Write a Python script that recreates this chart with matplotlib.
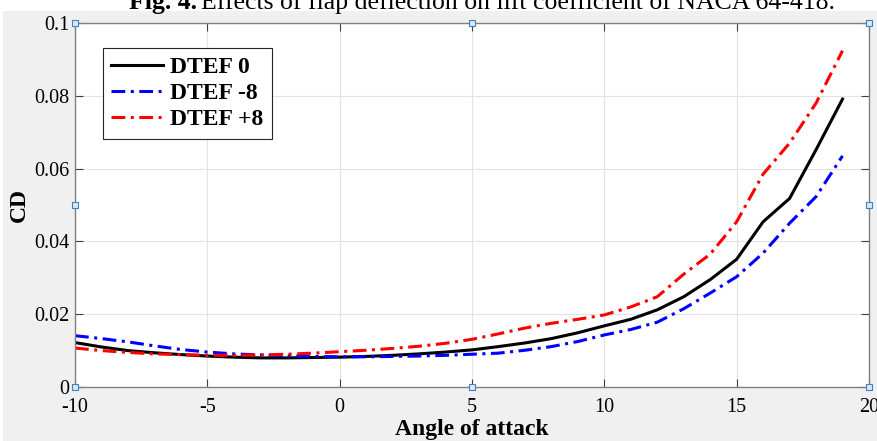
import numpy as np
import matplotlib.pyplot as plt
from matplotlib.patches import Rectangle

# angle of attack (deg) and drag coefficient for each flap deflection
alpha = [-10, -9, -8, -7, -6, -5, -4, -3, -2, -1, 0, 1, 2, 3, 4, 5, 6, 7, 8, 9,
         10, 11, 12, 13, 14, 15, 16, 17, 18, 19]
cd_0 = [0.0122, 0.0110, 0.0100, 0.0094, 0.0089, 0.0085, 0.0082, 0.0080, 0.0080, 0.0081,
        0.0082, 0.0084, 0.0087, 0.0091, 0.0096, 0.0102, 0.0111, 0.0121, 0.0133, 0.0149,
        0.0168, 0.0186, 0.0212, 0.0248, 0.0295, 0.0351, 0.0454, 0.0518, 0.0652, 0.0791]
cd_m8 = [0.0141, 0.0133, 0.0124, 0.0113, 0.0103, 0.0096, 0.0091, 0.0088, 0.0086, 0.0084,
         0.0083, 0.0083, 0.0084, 0.0085, 0.0087, 0.0090, 0.0093, 0.0101, 0.0111, 0.0125,
         0.0143, 0.0158, 0.0178, 0.0215, 0.0258, 0.0303, 0.0368, 0.0450, 0.0523, 0.0635]
cd_p8 = [0.0107, 0.0100, 0.0095, 0.0091, 0.0089, 0.0087, 0.0087, 0.0088, 0.0090, 0.0093,
         0.0097, 0.0101, 0.0106, 0.0112, 0.0120, 0.0131, 0.0146, 0.0162, 0.0175, 0.0186,
         0.0198, 0.0220, 0.0248, 0.0310, 0.0365, 0.0454, 0.0585, 0.0670, 0.0780, 0.0924]
labels = ['DTEF 0', 'DTEF -8', 'DTEF +8']
xticks = [-10, -5, 0, 5, 10, 15, 20]
yticks = [0, 0.02, 0.04, 0.06, 0.08, 0.1]
ytick_labels = ['0', '0.02', '0.04', '0.06', '0.08', '0.1']

plt.rcParams['font.family'] = ['Liberation Serif', 'DejaVu Serif']

W, H = 877, 441
fig = plt.figure(figsize=(W / 100, H / 100), dpi=100, facecolor='white')

# MATLAB figure window background (gray), title strip above it is white
fig.patches.append(Rectangle((3 / W, 0), 1 - 3 / W, 1 - 11 / H, transform=fig.transFigure,
                             facecolor='#f0f0f0', edgecolor='none', zorder=-10))

# caption cut off at the top of the screenshot
fig.text(129 / W, 1 - 9 / H, 'Fig. 4.', fontsize=18.5, fontweight='bold', ha='left', va='baseline')
fig.text(201 / W, 1 - 9 / H, 'Effects of flap deflection on lift coefficient of NACA 64-418.',
         fontsize=18.5, ha='left', va='baseline')

ax = fig.add_axes([75 / W, 1 - 387 / H, 794 / W, 364 / H])
ax.set_facecolor('white')

ax.plot(alpha, cd_0, color='black', linestyle='-', linewidth=2.2, label=labels[0])
ax.plot(alpha, cd_m8, color='blue', linestyle=(0, (4.5, 1.8, 1, 1.8)), linewidth=2.2, label=labels[1])
ax.plot(alpha, cd_p8, color='red', linestyle=(0, (4.5, 1.8, 1, 1.8)), linewidth=2.2, label=labels[2])

ax.set_xlim(-10, 20)
ax.set_ylim(0, 0.1)
ax.set_xticks(xticks)
ax.set_xticklabels([str(t) for t in xticks])
ax.set_yticks(yticks)
ax.set_yticklabels(ytick_labels)
ax.tick_params(direction='in', length=6, width=0.8, color='#404040', labelsize=14.5,
               top=True, right=True)
ax.tick_params(axis='x', pad=8)
ax.tick_params(axis='y', pad=4)
ax.grid(True, color='#e3e3e3', linewidth=0.8)
ax.set_axisbelow(True)
for s in ax.spines.values():
    s.set_color('#808080')
    s.set_linewidth(1.0)

ax.set_xlabel('Angle of attack', fontsize=17, fontweight='bold', labelpad=1)
ax.set_ylabel('CD', fontsize=17, fontweight='bold', labelpad=3)

leg = ax.legend(loc='upper left', bbox_to_anchor=(28 / 794, 1 - 25 / 364), borderaxespad=0,
                prop={'size': 17, 'weight': 'bold'}, fancybox=False, edgecolor='#262626',
                framealpha=1, handlelength=2.2, handletextpad=0.3, labelspacing=0.2,
                borderpad=0.35)
leg.get_frame().set_linewidth(0.8)

# MATLAB selection handles on the axes box
hx = [0, 0.5, 1, 0, 1, 0, 0.5, 1]
hy = [1, 1, 1, 0.5, 0.5, 0, 0, 0]
ax.plot(hx, hy, linestyle='none', marker='s', markersize=4.5, markerfacecolor='#dce8f4',
        markeredgecolor='#3c82c0', markeredgewidth=0.8, transform=ax.transAxes,
        clip_on=False, zorder=10)

fig.savefig('out.png', dpi=100, facecolor=fig.get_facecolor())
